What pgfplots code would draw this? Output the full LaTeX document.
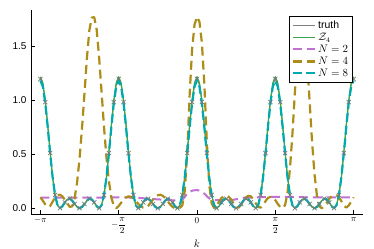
\documentclass[border=0pt]{standalone}
\usepackage{amsmath}
\usepackage{pgfplots}
\pgfplotsset{compat=1.18}
\usepackage{pgfplotstable}
\usepackage{fontspec}
\setmainfont{Liberation Sans}
\definecolor{cgreen}{HTML}{3DA44D}
\definecolor{cpink}{HTML}{C271D2}
\definecolor{colive}{HTML}{AC8D18}
\definecolor{ccyan}{HTML}{00A9AD}
\definecolor{cgray}{HTML}{808080}
\definecolor{cmark}{HTML}{7A7A7A}

% j = grid index, k = -pi + j*pi/64
\pgfplotstableread{
j t z c o
0 1.200 1.220 1.185 0.100
1 1.143 1.162 1.130 0.070
2 0.985 1.000 0.975 0.035
3 0.760 0.772 0.752 0.012
4 0.512 0.520 0.507 0.020
5 0.288 0.288 0.288 0.060
6 0.122 0.122 0.122 0.100
7 0.027 0.027 0.027 0.120
8 0.000 0.000 0.000 0.125
9 0.018 0.018 0.018 0.110
10 0.054 0.054 0.054 0.080
11 0.082 0.082 0.082 0.045
12 0.088 0.088 0.088 0.012
13 0.070 0.070 0.070 0.017
14 0.039 0.039 0.039 0.094
15 0.011 0.011 0.011 0.240
16 0.000 0.000 0.000 0.460
17 0.011 0.011 0.011 0.740
18 0.039 0.039 0.039 1.060
19 0.070 0.070 0.070 1.390
20 0.088 0.088 0.088 1.650
21 0.082 0.082 0.082 1.770
22 0.054 0.054 0.054 1.773
23 0.018 0.018 0.018 1.657
24 0.000 0.000 0.000 1.400
25 0.027 0.027 0.027 1.080
26 0.122 0.122 0.122 0.753
27 0.288 0.288 0.288 0.470
28 0.512 0.520 0.507 0.250
29 0.760 0.772 0.752 0.100
30 0.985 1.000 0.975 0.020
31 1.143 1.162 1.130 0.000
32 1.200 1.220 1.185 0.020
33 1.143 1.162 1.130 0.050
34 0.985 1.000 0.975 0.080
35 0.760 0.772 0.752 0.100
36 0.512 0.520 0.507 0.110
37 0.288 0.288 0.288 0.105
38 0.122 0.122 0.122 0.090
39 0.027 0.027 0.027 0.065
40 0.000 0.000 0.000 0.040
41 0.018 0.018 0.018 0.018
42 0.054 0.054 0.054 0.005
43 0.082 0.082 0.082 0.005
44 0.088 0.088 0.088 0.020
45 0.070 0.070 0.070 0.050
46 0.039 0.039 0.039 0.080
47 0.011 0.011 0.011 0.105
48 0.000 0.000 0.000 0.120
49 0.011 0.011 0.011 0.125
50 0.039 0.039 0.039 0.115
51 0.070 0.070 0.070 0.095
52 0.088 0.088 0.088 0.065
53 0.082 0.082 0.082 0.035
54 0.054 0.054 0.054 0.012
55 0.018 0.018 0.018 0.000
56 0.000 0.000 0.000 0.000
57 0.027 0.027 0.027 0.003
58 0.122 0.122 0.122 0.026
59 0.288 0.288 0.288 0.158
60 0.512 0.520 0.507 0.519
61 0.760 0.772 0.752 1.054
62 0.985 1.000 0.975 1.477
63 1.143 1.162 1.130 1.705
64 1.200 1.220 1.185 1.777
65 1.143 1.162 1.130 1.731
66 0.985 1.000 0.975 1.535
67 0.760 0.772 0.752 1.154
68 0.512 0.520 0.507 0.624
69 0.288 0.288 0.288 0.218
70 0.122 0.122 0.122 0.044
71 0.027 0.027 0.027 0.002
72 0.000 0.000 0.000 0.020
73 0.018 0.018 0.018 0.060
74 0.054 0.054 0.054 0.095
75 0.082 0.082 0.082 0.110
76 0.088 0.088 0.088 0.115
77 0.070 0.070 0.070 0.105
78 0.039 0.039 0.039 0.080
79 0.011 0.011 0.011 0.040
80 0.000 0.000 0.000 0.010
81 0.011 0.011 0.011 0.005
82 0.039 0.039 0.039 0.030
83 0.070 0.070 0.070 0.070
84 0.088 0.088 0.088 0.100
85 0.082 0.082 0.082 0.115
86 0.054 0.054 0.054 0.110
87 0.018 0.018 0.018 0.085
88 0.000 0.000 0.000 0.045
89 0.027 0.027 0.027 0.012
90 0.122 0.122 0.122 0.005
91 0.288 0.288 0.288 0.030
92 0.512 0.520 0.507 0.065
93 0.760 0.772 0.752 0.095
94 0.985 1.000 0.975 0.105
95 1.143 1.162 1.130 0.100
96 1.200 1.220 1.185 0.075
97 1.143 1.162 1.130 0.040
98 0.985 1.000 0.975 0.012
99 0.760 0.772 0.752 0.000
100 0.512 0.520 0.507 0.028
101 0.288 0.288 0.288 0.146
102 0.122 0.122 0.122 0.370
103 0.027 0.027 0.027 0.690
104 0.000 0.000 0.000 1.075
105 0.018 0.018 0.018 1.450
106 0.054 0.054 0.054 1.709
107 0.082 0.082 0.082 1.780
108 0.088 0.088 0.088 1.680
109 0.070 0.070 0.070 1.386
110 0.039 0.039 0.039 1.000
111 0.011 0.011 0.011 0.623
112 0.000 0.000 0.000 0.320
113 0.011 0.011 0.011 0.118
114 0.039 0.039 0.039 0.016
115 0.070 0.070 0.070 0.000
116 0.088 0.088 0.088 0.020
117 0.082 0.082 0.082 0.050
118 0.054 0.054 0.054 0.085
119 0.018 0.018 0.018 0.110
120 0.000 0.000 0.000 0.120
121 0.027 0.027 0.027 0.120
122 0.122 0.122 0.122 0.100
123 0.288 0.288 0.288 0.065
124 0.512 0.520 0.507 0.025
125 0.760 0.772 0.752 0.005
126 0.985 1.000 0.975 0.025
127 1.143 1.162 1.130 0.060
128 1.200 1.220 1.185 0.100
}\data

\pgfplotstableread{
k n
-3.1416 0.097
-2.6 0.098
-2.0 0.098
-1.6 0.100
-1.3 0.099
-1.0 0.090
-0.8 0.082
-0.6 0.077
-0.45 0.072
-0.35 0.070
-0.28 0.085
-0.22 0.120
-0.16 0.150
-0.08 0.165
0.0 0.168
0.08 0.160
0.16 0.130
0.22 0.100
0.28 0.080
0.35 0.075
0.5 0.074
0.7 0.076
0.85 0.088
1.0 0.097
1.3 0.102
1.6 0.105
1.9 0.104
2.2 0.101
2.6 0.100
3.1416 0.100
}\ntwo

\begin{document}
\begin{tikzpicture}
\path[use as bounding box] (0,0) rectangle (374bp,249bp);
\begin{axis}[
  at={(31bp,35bp)}, anchor=south west,
  width=332bp, height=204bp, scale only axis,
  xmin=-3.33, xmax=3.33, ymin=-0.054, ymax=1.84,
  axis x line*=bottom, axis y line*=left,
  axis line style={line width=0.8bp, black},
  tick align=inside, major tick length=3.5bp,
  tick style={line width=0.6bp, black},
  xtick={-3.14159,-1.5708,0,1.5708,3.14159},
  xticklabels={$-\pi$,$-\dfrac{\pi}{2}$,$0$,$\dfrac{\pi}{2}$,$\pi$},
  ytick={0,0.5,1,1.5},
  yticklabels={0.0,0.5,1.0,1.5},
  tick label style={font=\fontsize{9.5}{10}\selectfont},
  yticklabel style={font=\fontsize{10}{11}\selectfont, xshift=-1bp},
  xlabel={$k$}, xlabel style={font=\fontsize{11}{12}\selectfont},
  legend cell align=left,
  legend image code/.code={\draw[#1] (0bp,0bp) -- (22bp,0bp);},
  legend style={at={(0.97,0.97)}, anchor=north east, draw=black,
    line width=0.8bp, fill=white, font=\fontsize{10.5}{11}\selectfont,
    inner xsep=2.5bp, inner ysep=2.5bp, row sep=-1bp},
  every axis plot/.append style={line join=round},
]
\addplot[cgray, line width=0.8bp] table[x expr=\thisrow{j}*0.0490874-3.14159, y=t] {\data};
\addlegendentry{truth}
\addplot[cgreen, line width=1.3bp] table[x expr=\thisrow{j}*0.0490874-3.14159, y=z] {\data};
\addlegendentry{$\mathcal{Z}_4$}
\addplot[cpink, line width=2bp, dash pattern=on 9bp off 5bp] table[x=k, y=n] {\ntwo};
\addlegendentry{$N=2$}
\addplot[colive, line width=2.2bp, dash pattern=on 9bp off 5bp] table[x expr=\thisrow{j}*0.0490874-3.14159, y=o] {\data};
\addlegendentry{$N=4$}
\addplot[ccyan, line width=2.2bp, dash pattern=on 9bp off 4bp] table[x expr=\thisrow{j}*0.0490874-3.14159, y=c] {\data};
\addlegendentry{$N=8$}
\addplot[forget plot, only marks, mark=x, mark repeat=2, mark size=3bp, cmark, mark options={line width=0.7bp}] table[x expr=\thisrow{j}*0.0490874-3.14159, y=t] {\data};
\end{axis}
\end{tikzpicture}
\end{document}
